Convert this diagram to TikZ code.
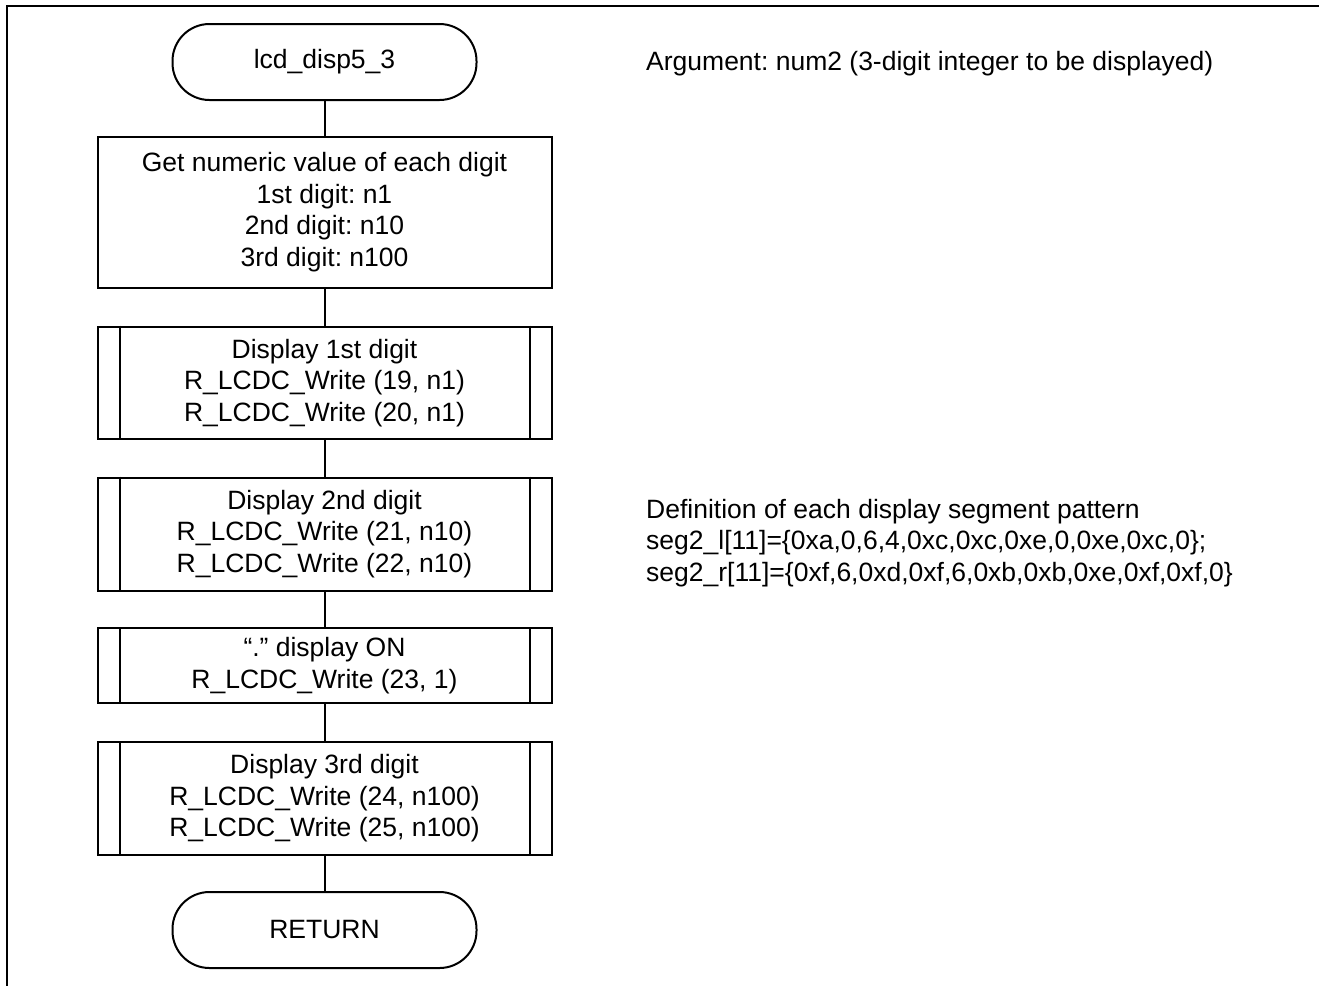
\documentclass[tikz,border=0pt]{standalone}
\usepackage{fontspec}
\setmainfont{Liberation Sans}
\frenchspacing
\begin{document}
\begin{tikzpicture}[x=1pt,y=-1pt,
  every node/.style={font=\fontsize{26.5}{31.5}\selectfont, inner sep=0pt},
  term/.style={draw, line width=2pt, rounded corners=37pt, minimum width=304pt, minimum height=76pt, align=center},
  proc/.style={draw, line width=2pt, minimum width=454pt, align=center},
  sub/.style={proc},
  conn/.style={line width=2pt},
  frame/.style={line width=2.5pt},
  note/.style={align=left}]
\useasboundingbox (0,0) rectangle (1319,985);
\draw[frame] (6.8,990) -- (6.8,6) -- (1325,6);

\node[term] (start) at (324.5,62) {lcd\_disp5\_3};
\node[proc, minimum height=151.5pt] (p1) at (324.5,212.25)
  {Get numeric value of each digit\\1st digit: n1\\2nd digit: n10\\3rd digit: n100};
\node[sub, minimum height=112.5pt] (s1) at (324.5,382.75)
  {Display 1st digit\\R\_LCDC\_Write (19, n1)\\R\_LCDC\_Write (20, n1)};
\node[sub, minimum height=113pt] (s2) at (324.5,534)
  {Display 2nd digit\\R\_LCDC\_Write (21, n10)\\R\_LCDC\_Write (22, n10)};
\node[sub, minimum height=75pt] (s3) at (324.5,665.5)
  {“.” display ON\\R\_LCDC\_Write (23, 1)};
\node[sub, minimum height=113pt] (s4) at (324.5,798.5)
  {Display 3rd digit\\R\_LCDC\_Write (24, n100)\\R\_LCDC\_Write (25, n100)};
\node[term] (ret) at (324.5,930) {RETURN};

\foreach \n in {s1,s2,s3,s4}{
  \draw[conn] ([xshift=23pt]\n.north west) -- ([xshift=23pt]\n.south west);
  \draw[conn] ([xshift=-23pt]\n.north east) -- ([xshift=-23pt]\n.south east);
}

\draw[conn] (start) -- (p1);
\draw[conn] (p1) -- (s1);
\draw[conn] (s1) -- (s2);
\draw[conn] (s2) -- (s3);
\draw[conn] (s3) -- (s4);
\draw[conn] (s4) -- (ret);

\node[anchor=base west] (arg) at (646,70) {Argument: num2 (3-digit integer to be displayed)};
\node[note, anchor=north west] (def) at (646,498.6)
  {Definition of each display segment pattern\\seg2\_l[11]=\{0xa,0,6,4,0xc,0xc,0xe,0,0xe,0xc,0\};\\seg2\_r[11]=\{0xf,6,0xd,0xf,6,0xb,0xb,0xe,0xf,0xf,0\}};
\end{tikzpicture}
\end{document}
